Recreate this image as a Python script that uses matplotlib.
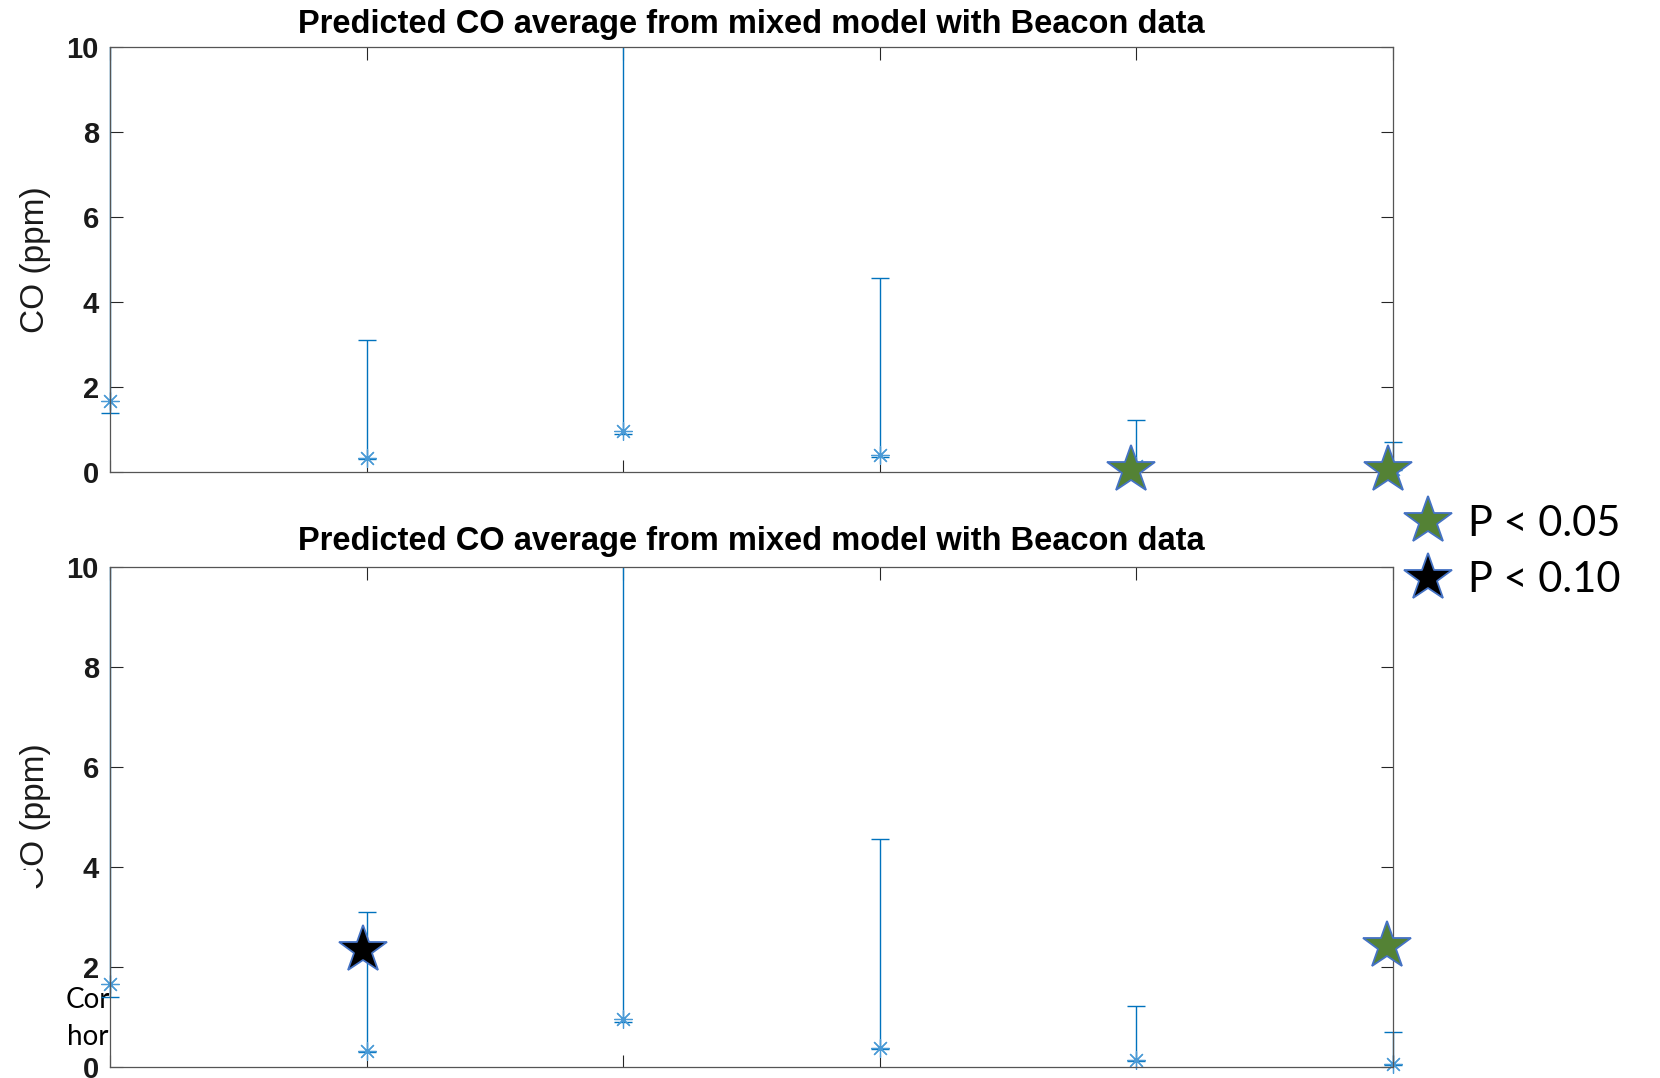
import matplotlib
matplotlib.use('Agg')
import numpy as np
import matplotlib.pyplot as plt
from matplotlib.lines import Line2D
from matplotlib.patches import Rectangle
from matplotlib.transforms import Bbox, TransformedBbox

# datos (CO en ppm, 6 grupos)
grupos = [1, 2, 3, 4, 5, 6]
co_media = [1.66, 0.33, 0.97, 0.39, 0.14, 0.07]
co_bajo = [1.40, 0.30, 0.90, 0.36, 0.12, 0.05]
co_alto = [12.0, 3.10, 12.0, 4.57, 1.23, 0.71]

# estrellas de significancia
sig_arriba_x = [4.98, 5.98]
sig_arriba_y = [0.05, 0.05]
sig05_abajo_x = [5.977]
sig05_abajo_y = [2.42]
sig10_abajo_x = [1.985]
sig10_abajo_y = [2.35]

titulo = 'Predicted CO average from mixed model with Beacon data'
etiqueta_y = 'CO (ppm)'
y_ticks = [0, 2, 4, 6, 8, 10]

azul = '#0072BD'
azul_claro = '#4a9ad6'
verde = '#548235'
borde = '#4472C4'

fig = plt.figure(figsize=(16.6, 10.78), dpi=100)

ax1 = fig.add_axes([0.06627, 0.56215, 0.77289, 0.39425])
ax2 = fig.add_axes([0.06627, 0.0102, 0.77289, 0.46383])

media = np.array(co_media)
err = [media - np.array(co_bajo), np.array(co_alto) - media]

for ax, pad in [(ax1, 10), (ax2, 12)]:
    eb = ax.errorbar(grupos, co_media, yerr=err, fmt='none', ecolor=azul,
                     elinewidth=1.0, capsize=6.5, capthick=1.0)
    pts, = ax.plot(grupos, co_media, linestyle='none', marker=(8, 2, 0),
                   markersize=13, markeredgewidth=0.9, color=azul_claro)
    # recorte: arriba en el borde del eje, a los lados un poco mas ancho
    caja = TransformedBbox(Bbox([[-0.05, -0.05], [1.05, 1.0]]), ax.transAxes)
    for art in [pts] + list(eb.lines[1]) + list(eb.lines[2]):
        art.set_clip_box(caja)
    ax.set_xlim(1, 6)
    ax.set_ylim(0, 10)
    ax.set_yticks(y_ticks)
    ax.set_xticks(grupos)
    ax.set_xticklabels([])
    ax.tick_params(direction='in', length=9, width=0.8, colors='#262626',
                   top=True, right=True, labelsize=21, pad=8)
    for lbl in ax.get_yticklabels():
        lbl.set_family('Liberation Sans')
        lbl.set_fontweight('bold')
        lbl.set_color('#1a1a1a')
    for s in ax.spines.values():
        s.set_color('#555555')
        s.set_linewidth(0.9)
    ax.set_title(titulo, fontsize=23.5, fontweight='bold',
                 family='Liberation Sans', pad=pad)
    ax.set_ylabel(etiqueta_y, fontsize=24, family='Liberation Sans', labelpad=11,
                  color='#1a1a1a')

estrella = dict(linestyle='none', marker='*', markersize=36,
                markeredgecolor=borde, markeredgewidth=1.3, clip_on=False, zorder=10)
ax1.plot(sig_arriba_x, sig_arriba_y, markerfacecolor=verde, **estrella)
ax2.plot(sig05_abajo_x, sig05_abajo_y, markerfacecolor=verde, **estrella)
ax2.plot(sig10_abajo_x, sig10_abajo_y, markerfacecolor='black', **estrella)

# leyenda de significancia
manejadores = [Line2D([], [], markerfacecolor=verde, **estrella),
               Line2D([], [], markerfacecolor='black', **estrella)]
fig.legend(manejadores, ['P < 0.05', 'P < 0.10'], loc='upper left',
           bbox_to_anchor=(0.8302, 0.559), frameon=False,
           prop={'family': 'Lato', 'size': 30}, handlelength=1.0,
           handletextpad=0.45, labelspacing=0.45, borderpad=0.2)

# restos de texto tapado abajo a la izquierda
fig.text(0.0395, 0.0725, 'Cor', fontsize=20, family='Lato', va='center', zorder=-1)
fig.text(0.0402, 0.038, 'hor', fontsize=20, family='Lato', va='center', zorder=-1)
fig.patches.append(Rectangle((0.005, 0.158), 0.0167, 0.035, transform=fig.transFigure,
                             facecolor='white', edgecolor='none', zorder=20))

fig.savefig('out.png', dpi=100)
